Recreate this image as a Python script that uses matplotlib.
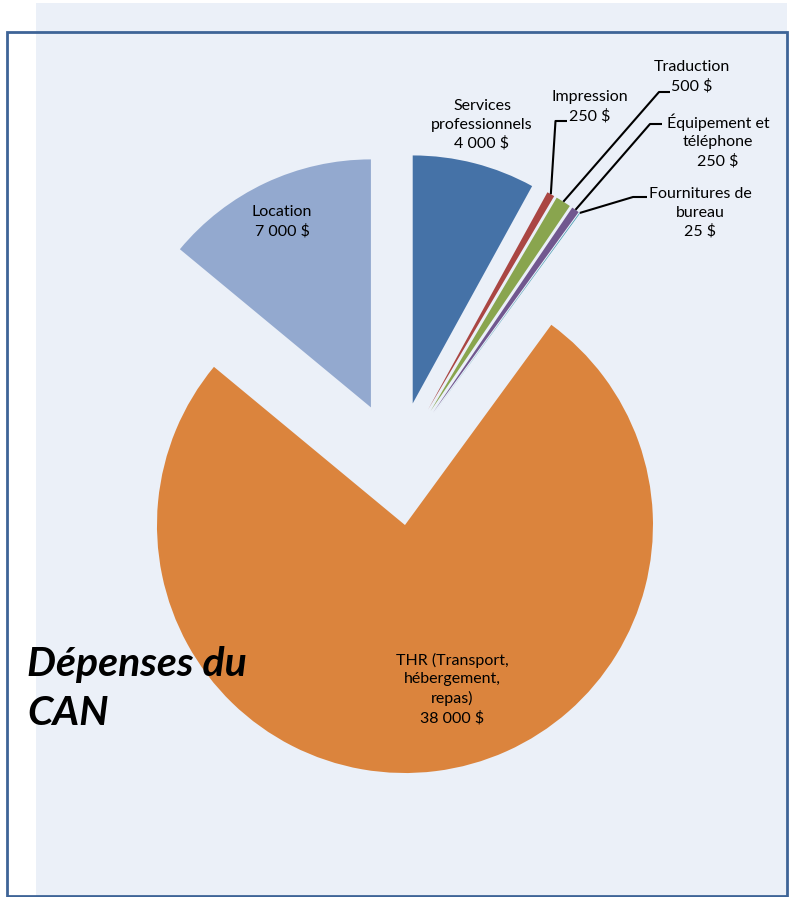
import numpy as np
import matplotlib
matplotlib.use('Agg')
import matplotlib.pyplot as plt
from matplotlib.patches import Rectangle

# data
categories = ['Services professionnels', 'Impression', 'Traduction',
              'Équipement et téléphone', 'Fournitures de bureau',
              'THR (Transport, hébergement, repas)', 'Location']
values = [4000, 250, 500, 250, 25, 38000, 7000]
label_texts = ['Services\nprofessionnels\n4 000 $', 'Impression\n250 $',
               'Traduction\n500 $', 'Équipement et\ntéléphone\n250 $',
               'Fournitures de\nbureau\n25 $',
               'THR (Transport,\nhébergement,\nrepas)\n38 000 $',
               'Location\n7 000 $']
colors = ['#4572A7', '#AA4643', '#89A54E', '#71588F', '#4198AF', '#DB843D', '#93A9CF']

W, H = 797, 897
def Y(py):   # pixel-from-top -> data y
    return H - py

plt.rcParams['font.family'] = ['Lato', 'DejaVu Sans']
fig = plt.figure(figsize=(W/100., H/100.), dpi=100)
ax = fig.add_axes([0, 0, 1, 1])

# background panel + border
ax.add_patch(Rectangle((36, 0), 751, Y(3), facecolor='#EBF0F8', edgecolor='none', zorder=0))
ax.add_patch(Rectangle((7, 1), 780, Y(32)-1, fill=False, edgecolor='#3E6497', lw=2, zorder=1, clip_on=False))

R = 248.
# explode is in data units here (center shift), all slices pulled out equally
wedges, _ = ax.pie(values, colors=colors, startangle=90, counterclock=False,
                   explode=[0.25*R]*len(values), radius=R, center=(397.3, Y(463.5)),
                   wedgeprops=dict(linewidth=0))
for w in wedges: w.set_zorder(2)

# label positions (center of text block, pixel from top)
label_pos = [(482, 125), (590, 107), (692, 77), (718, 141), (700, 213), (452, 689), (282, 222)]
for t, (px, py) in zip(label_texts, label_pos):
    ax.text(px, Y(py), t, ha='center', va='center', fontsize=11.5, linespacing=1.4, zorder=4)

# leader lines for the small slices: wedge tip -> elbow -> label
elbows = {1: [(555.5, 121), (567, 121)], 2: [(659, 92), (670, 92)],
          3: [(650, 124), (662, 124)], 4: [(633, 197), (647, 197)]}
for i, pts in elbows.items():
    w = wedges[i]
    a = np.deg2rad((w.theta1 + w.theta2) / 2.)
    tip = (w.center[0] + w.r*np.cos(a), w.center[1] + w.r*np.sin(a))
    xs = [tip[0]] + [p[0] for p in pts]
    ys = [tip[1]] + [Y(p[1]) for p in pts]
    ax.plot(xs, ys, color='k', lw=1.5, zorder=3, solid_capstyle='butt')

ax.text(27, Y(689), 'Dépenses du\nCAN', ha='left', va='center', fontsize=29.5,
        fontweight='bold', fontstyle='italic', linespacing=1.4, zorder=5)

ax.set_xlim(0, W)
ax.set_ylim(0, H)
ax.set_aspect('auto')
ax.axis('off')
fig.savefig('out.png', dpi=100, facecolor='white')
